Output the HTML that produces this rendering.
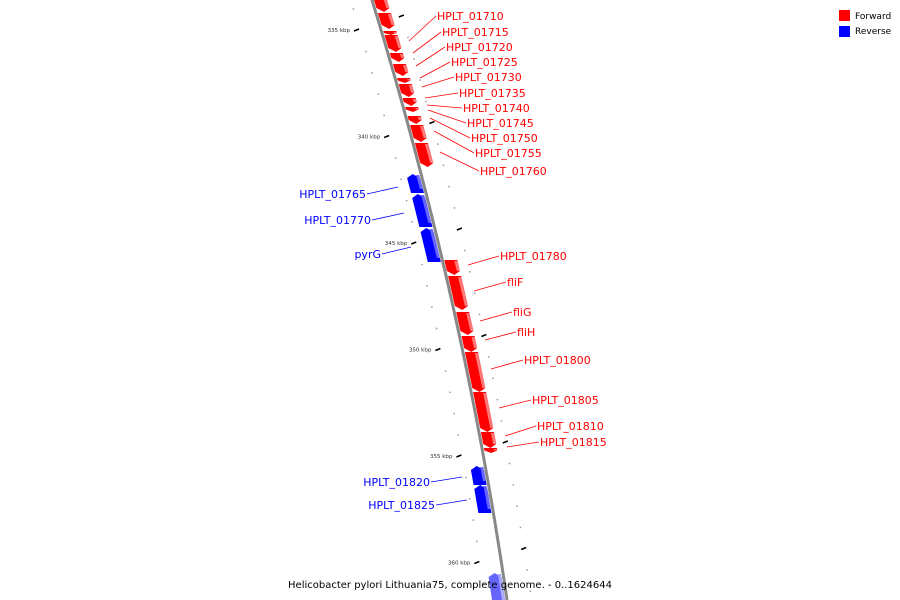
<!DOCTYPE html>
<html><head><meta charset="utf-8"><style>
html,body{margin:0;padding:0;background:#fff;}
svg{display:block;font-family:"DejaVu Sans","Liberation Sans",sans-serif;}
</style></head><body>
<svg id="map" width="900" height="600" viewBox="0 0 900 600">
<g id="ticks"></g>
<path id="backbone" fill="none" stroke="#888" stroke-width="3"/>
<g id="genes"></g>
<g id="labels"></g>
<text x="450" y="588" font-size="10" text-anchor="middle" fill="#000">Helicobacter pylori Lithuania75, complete genome. - 0..1624644</text>
<g>
<rect x="839" y="10" width="11" height="11" fill="#f00"/>
<text x="855" y="19" font-size="9">Forward</text>
<rect x="839" y="26" width="11" height="11" fill="#00f"/>
<text x="855" y="34" font-size="9">Reverse</text>
</g>
</svg>
<script>
// gene data: [name, yStart, yEnd, strand]
const geneNames=["g_top","HPLT_01710","HPLT_01715","HPLT_01720","HPLT_01725","HPLT_01730","HPLT_01735","HPLT_01740","HPLT_01745","HPLT_01750","g_small","HPLT_01755","HPLT_01760","HPLT_01765","HPLT_01770","pyrG","HPLT_01780","fliF","fliG","fliH","HPLT_01800","HPLT_01805","HPLT_01810","HPLT_01815","HPLT_01820","HPLT_01825","g_bottom"];
const geneStart=[-5,13,31,35,53,64,78,84,98,107,116,125,143,174,194,228,260,276,312,336,352,392,432,448,466,485,573];
const geneEnd=[12,29,35,52,62,76,83,97,106,112,124,142,167,193,227,262,275,310,335,352,392,432,448,453,485,513,605];
const geneStrand=[1,1,1,1,1,1,1,1,1,1,1,1,1,-1,-1,-1,1,1,1,1,1,1,1,1,-1,-1,-1];
// labels: text, textX, textY, anchorX, anchorY, strand
const labelText=["HPLT_01710","HPLT_01715","HPLT_01720","HPLT_01725","HPLT_01730","HPLT_01735","HPLT_01740","HPLT_01745","HPLT_01750","HPLT_01755","HPLT_01760","HPLT_01765","HPLT_01770","pyrG","HPLT_01780","fliF","fliG","fliH","HPLT_01800","HPLT_01805","HPLT_01810","HPLT_01815","HPLT_01820","HPLT_01825"];
const labelX=[437,442,446,451,455,459,463,467,471,475,480,366,371,381,500,507,513,517,524,532,537,540,430,435];
const labelY=[16,32,47,62,77,93,108,123,138,153,171,194,220,254,256,282,312,332,360,400,426,442,482,505];
const anchorX=[409,413,416,420,422,425,427,428,430,434,440,398,404,411,468,474,480,485,491,499,505,507,462,467];
const anchorY=[41,53,66,78,87,98,105,110,118,131,152,187,213,247,265,291,321,340,369,408,436,447,477,500];
const kbpValues=[334,335,336,337,338,339,340,341,342,343,344,345,346,347,348,349,350,351,352,353,354,355,356,357,358,359,360,361,362];

function lx(y){return 372+0.3054*y-0.000134*y*y;}
const NS="http://www.w3.org/2000/svg";
function mk(t,a,p){const e=document.createElementNS(NS,t);for(const k in a)e.setAttribute(k,a[k]);p.appendChild(e);return e;}

let d="";for(let y=-5;y<=605;y+=5)d+=(y<0?"M":"L")+lx(y).toFixed(1)+","+y+" ";
document.getElementById("backbone").setAttribute("d",d);

const tg=document.getElementById("ticks");
kbpValues.forEach(k=>{
  const y=30+(k-335)*21.3;
  const x=lx(y);
  if(k%5===0){
    const t=mk("line",{x1:x-27,y1:y+1,x2:x-22,y2:y-1,stroke:"#000","stroke-width":1.5},tg);
    
    
    const tx=mk("text",{x:x-31,y:y+2,"font-size":5.5,"text-anchor":"end",fill:"#333"},tg);
    
    
    tx.textContent=k+" kbp";
    const y2=y-14,x2=lx(y2);
    const r=mk("line",{x1:x2+22,y1:y2+1,x2:x2+27,y2:y2-1,stroke:"#000","stroke-width":1.5},tg);
    
    
  } else {
    const c=mk("rect",{x:x-22,y:y-0.5,width:1.5,height:1.5,fill:"#999"},tg);
    
    
    const y2=y-14,x2=lx(y2);
    const c2=mk("rect",{x:x2+24,y:y2-0.5,width:1.5,height:1.5,fill:"#999"},tg);
    
    
  }
});

const gg=document.getElementById("genes");
geneNames.forEach((n,i)=>{
  const s=geneStrand[i],y1=geneStart[i],y2=geneEnd[i];
  const fwd=s>0, light=(i===geneNames.length-1);
  const col=fwd?"#f00":(light?"#66f":"#00f");
  const col2=fwd?"#f77":(light?"#aaf":"#66f");
  const w=13,off=fwd?2:-2-w;
  const a=Math.min(4,(y2-y1)/2);
  const g=mk("g",{},gg);
  
  
  let pts;
  if(fwd){
    const xa=lx(y1)+off,xb=lx(y2-a)+off,xc=lx(y2)+off;
    pts=[[xa,y1],[xa+w,y1],[xb+w,y2-a],[xc+w/2,y2],[xb,y2-a]];
  } else {
    const xa=lx(y1+a)+off,xc=lx(y1)+off,xb=lx(y2)+off;
    pts=[[xc+w/2,y1],[xa+w,y1+a],[xb+w,y2],[xb,y2],[xa,y1+a]];
  }
  mk("polygon",{points:pts.map(p=>p[0].toFixed(1)+","+p[1].toFixed(1)).join(" "),fill:col},g);
  const fx=fwd?lx((y1+y2)/2)+off+w-3:lx((y1+y2)/2)+off+w-3;
  mk("polygon",{points:[[lx(y1)+off+w-3,y1+1],[lx(y1)+off+w,y1+1],[lx(y2-a)+off+w,y2-a],[lx(y2-a)+off+w-3,y2-a]].map(p=>p[0].toFixed(1)+","+p[1].toFixed(1)).join(" "),fill:col2},g);
});

const lg=document.getElementById("labels");
labelText.forEach((t,i)=>{
  const fwd=labelX[i]>anchorX[i];
  const col=fwd?"#f00":"#00f";
  const l=mk("line",{x1:anchorX[i],y1:anchorY[i],x2:labelX[i]+(fwd?-1:1),y2:labelY[i],stroke:col,"stroke-width":0.8},lg);
  
  
  const tx=mk("text",{x:labelX[i],y:labelY[i]+4,"font-size":11,fill:col,"text-anchor":fwd?"start":"end"},lg);
  
  
  tx.textContent=t;
});
</script>
</body></html>
